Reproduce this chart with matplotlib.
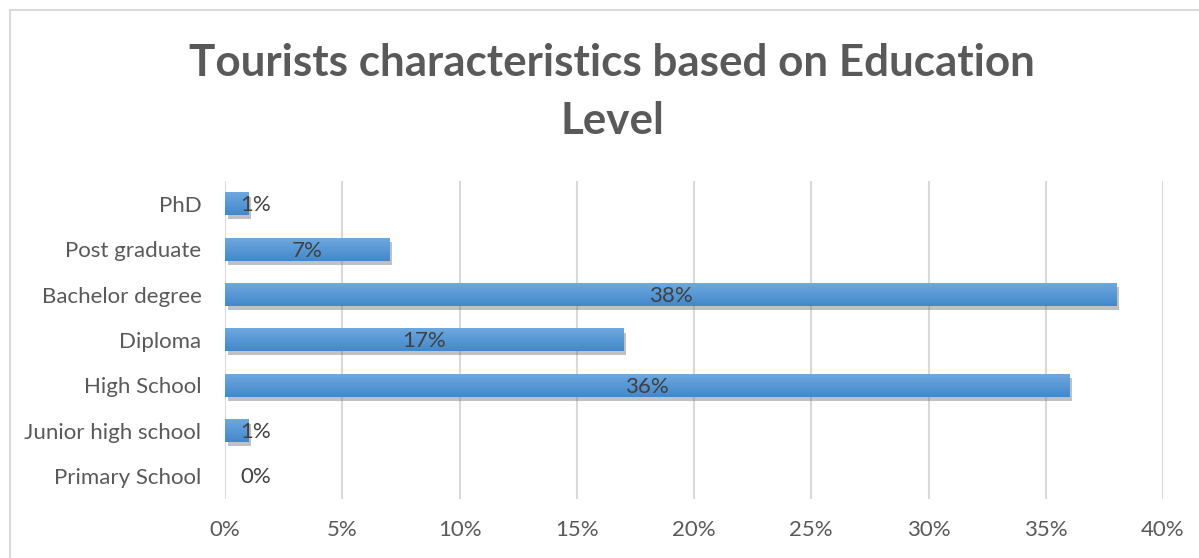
import matplotlib
matplotlib.use("Agg")
import matplotlib.pyplot as plt
import matplotlib.patheffects as pe
from matplotlib.lines import Line2D
import numpy as np

plt.rcParams['font.family'] = ['Lato', 'DejaVu Sans']

# education levels, bottom to top as drawn
levels = ["Primary School", "Junior high school", "High School", "Diploma",
          "Bachelor degree", "Post graduate", "PhD"]
shares = [0, 1, 36, 17, 38, 7, 1]
x_ticks = [0, 5, 10, 15, 20, 25, 30, 35, 40]

fig = plt.figure(figsize=(11.99, 5.58), dpi=100)
ax = fig.add_axes([0.1877, 0.1063, 0.7823, 0.5688])

# chart border (left and top edges are the only ones in frame)
fig.add_artist(Line2D([10/1199, 10/1199], [0, 548/558], color="#d9d9d9", lw=1.5,
                      transform=fig.transFigure))
fig.add_artist(Line2D([10/1199, 1], [548/558, 548/558], color="#d9d9d9", lw=1.5,
                      transform=fig.transFigure))

grad = np.linspace(0, 1, 64).reshape(-1, 1)
cmap = matplotlib.colors.LinearSegmentedColormap.from_list("bar", ["#6ea8de", "#4288cb"])
h = 0.5
y = np.arange(len(levels))
for yi, v in zip(y, shares):
    if v <= 0:
        continue
    # soft drop shadow under each bar
    ax.barh(yi, v, height=h, color="none", edgecolor="none",
            path_effects=[pe.SimplePatchShadow(offset=(2, -3), shadow_rgbFace="#666666", alpha=0.4),
                          pe.Normal()], zorder=2)
    ax.imshow(grad, extent=[0, v, yi - h/2, yi + h/2], cmap=cmap, aspect="auto",
              interpolation="bilinear", zorder=3)

for yi, v in zip(y, shares):
    xpos = max(v / 2, 1.3)
    ax.text(xpos, yi - 0.03, f"{v}%", ha="center", va="center", fontsize=16,
            color="#404040", zorder=4)

ax.set_xlim(0, 40)
ax.set_ylim(-0.5, len(levels) - 0.5)
ax.set_yticks(y)
ax.set_yticklabels(levels)
ax.set_xticks(x_ticks)
ax.set_xticklabels([f"{t}%" for t in x_ticks])
ax.tick_params(axis="both", length=0, labelsize=16, labelcolor="#595959")
ax.tick_params(axis="y", pad=17)
ax.tick_params(axis="x", pad=15)
ax.grid(axis="x", color="#d9d9d9", lw=1.5, zorder=0)
ax.set_axisbelow(True)
for s in ax.spines.values():
    s.set_visible(False)

fig.text(612/1199, 1 - 92/558, "Tourists characteristics based on Education\nLevel",
         ha="center", va="center", fontsize=31.7, fontweight="bold", color="#595959",
         linespacing=1.55)

fig.savefig("out.png", dpi=100)
